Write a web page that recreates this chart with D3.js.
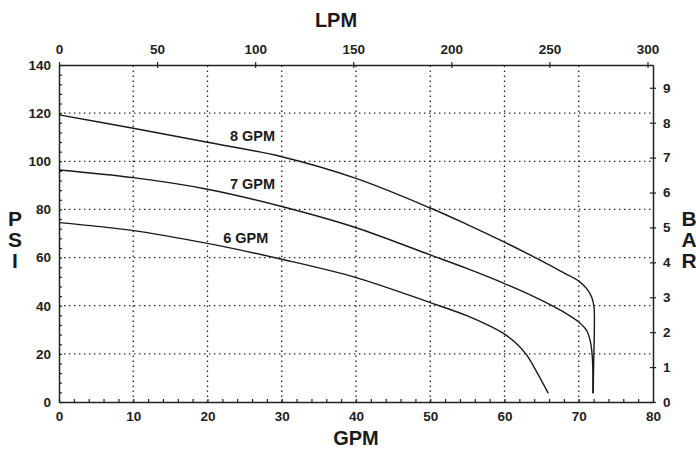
<!DOCTYPE html>
<html>
<head>
<meta charset="utf-8">
<script src="https://cdn.jsdelivr.net/npm/d3@7"></script>
<style>
  body { margin: 0; background: #fff; }
  svg { display: block; font-family: "Liberation Sans", Arial, Helvetica, sans-serif; font-weight: bold; }
  .domain { stroke: #222; stroke-width: 1.5; }
  .tick line { stroke: #222; stroke-width: 1.2; }
  .tick text { fill: #222; font-size: 13.5px; font-weight: bold; }
</style>
</head>
<body>
<svg id="chart"></svg>
<script>
var width = 696,
    height = 451;

// pump curves: [GPM, PSI]
var gpm8 = [[0,119.3],[10,113.7],[20,107.9],[30,101.9],[40,92.9],[50,80.6],[55,73.7],[60,66.4],[65,58.6],[68,53.6],[70,50.2],[71.1,47.0],[71.75,43.5],[72.05,39.6],[72.1,30],[72.0,15],[71.95,3.6]];
var gpm7 = [[0,96.4],[10,93.2],[20,88.4],[30,81.2],[40,72.4],[50,61.1],[55,55.4],[60,49.2],[65,42.2],[68,37.3],[70,33.2],[71.1,29.5],[71.6,24.6],[71.85,17.5],[71.9,3.6]];
var gpm6 = [[0,74.5],[10,71.2],[20,65.9],[30,59.3],[40,51.7],[50,41.3],[55,35.8],[58,31.6],[60,28.2],[61.5,24.6],[63,19.5],[64.5,11.6],[65.9,3.6]];

// curve labels, anchored at their right end / baseline [GPM, PSI]
var labelNames = ['8 GPM', '7 GPM', '6 GPM'];
var labelPos = [[29.1,108.6],[29.1,88.4],[28.2,65.9]];

var gpmTicks = d3.range(0, 81, 10);
var lpmTicks = d3.range(0, 301, 50);
var psiTicks = d3.range(0, 141, 20);
var barTicks = d3.range(0, 10, 1);

var LPM_PER_GPM = 3.785;
var PSI_PER_BAR = 14.5038;

var svg = d3.select('#chart')
  .attr('width', width)
  .attr('height', height);

svg.append('rect')
  .attr('width', width)
  .attr('height', height)
  .attr('fill', '#fff');

var x = d3.scaleLinear([0, 80], [59, 653]);
var y = d3.scaleLinear([0, 140], [402, 65]);
var xL = d3.scaleLinear([0, 80 * LPM_PER_GPM], [59, 653]);
var yB = d3.scaleLinear([0, 140 / PSI_PER_BAR], [402, 65]);

// dotted grid
var grid = svg.append('g').attr('stroke', '#222').attr('stroke-width', 1.3).attr('stroke-dasharray', '1.4,3.6');
grid.selectAll('.gx')
  .data(gpmTicks.filter(d => d > 0 && d < 80))
  .join('line')
  .attr('x1', d => x(d)).attr('x2', d => x(d))
  .attr('y1', y(0)).attr('y2', y(140));
grid.selectAll('.gy')
  .data(psiTicks.filter(d => d > 0 && d < 140))
  .join('line')
  .attr('y1', d => y(d)).attr('y2', d => y(d))
  .attr('x1', x(0)).attr('x2', x(80));

// minor ticks (inward)
svg.append('g')
  .attr('transform', 'translate(0,' + y(0) + ')')
  .call(d3.axisBottom(x).tickValues(d3.range(0, 81, 2)).tickSize(-3).tickFormat(''))
  .call(g => g.select('.domain').remove());
svg.append('g')
  .attr('transform', 'translate(' + x(0) + ',0)')
  .call(d3.axisLeft(y).tickValues(d3.range(0, 141, 4)).tickSize(-3).tickFormat(''))
  .call(g => g.select('.domain').remove());

// main axes
svg.append('g')
  .attr('transform', 'translate(0,' + y(0) + ')')
  .call(d3.axisBottom(x).tickValues(gpmTicks).tickSize(0).tickPadding(9).tickSizeOuter(0))
  .call(g => g.selectAll('.tick text').attr('dy', '0.75em'));

svg.append('g')
  .attr('transform', 'translate(' + x(0) + ',0)')
  .call(d3.axisLeft(y).tickValues(psiTicks).tickSize(0).tickPadding(8).tickSizeOuter(0));

svg.append('g')
  .attr('transform', 'translate(0,' + y(140) + ')')
  .call(d3.axisTop(xL).tickValues(lpmTicks).tickSize(3).tickPadding(8).tickSizeOuter(0))
  .call(g => g.selectAll('.tick line').attr('y1', 3).attr('y2', -3));

svg.append('g')
  .attr('transform', 'translate(' + x(80) + ',0)')
  .call(d3.axisRight(yB).tickValues(barTicks).tickSize(3).tickPadding(7).tickSizeOuter(0))
  .call(g => g.selectAll('.tick line').attr('x1', -3).attr('x2', 3));

// curves
var line = d3.line()
  .x(d => x(d[0]))
  .y(d => y(d[1]))
  .curve(d3.curveCatmullRom.alpha(0.5));

svg.append('g')
  .selectAll('path')
  .data([gpm8, gpm7, gpm6])
  .join('path')
  .attr('d', line)
  .attr('fill', 'none')
  .attr('stroke', '#1a1a1a')
  .attr('stroke-width', 1.4);

svg.append('g')
  .selectAll('text')
  .data(labelNames)
  .join('text')
  .attr('x', (d, i) => x(labelPos[i][0]))
  .attr('y', (d, i) => y(labelPos[i][1]))
  .attr('text-anchor', 'end')
  .attr('font-size', 14.5)
  .attr('fill', '#1a1a1a')
  .text(d => d);

// axis titles
svg.append('text')
  .attr('x', 336).attr('y', 27)
  .attr('text-anchor', 'middle')
  .attr('font-size', 20)
  .attr('fill', '#1a1a1a')
  .text('LPM');

svg.append('text')
  .attr('x', 356).attr('y', 445)
  .attr('text-anchor', 'middle')
  .attr('font-size', 20)
  .attr('fill', '#1a1a1a')
  .text('GPM');

var vTitle = function(letters, cx) {
  svg.append('g')
    .selectAll('text')
    .data(letters.split(''))
    .join('text')
    .attr('x', cx)
    .attr('y', (d, i) => 226 + i * 21)
    .attr('text-anchor', 'middle')
    .attr('font-size', 21)
    .attr('fill', '#1a1a1a')
    .text(d => d);
};
vTitle('PSI', 15);
vTitle('BAR', 689);
</script>
</body>
</html>
